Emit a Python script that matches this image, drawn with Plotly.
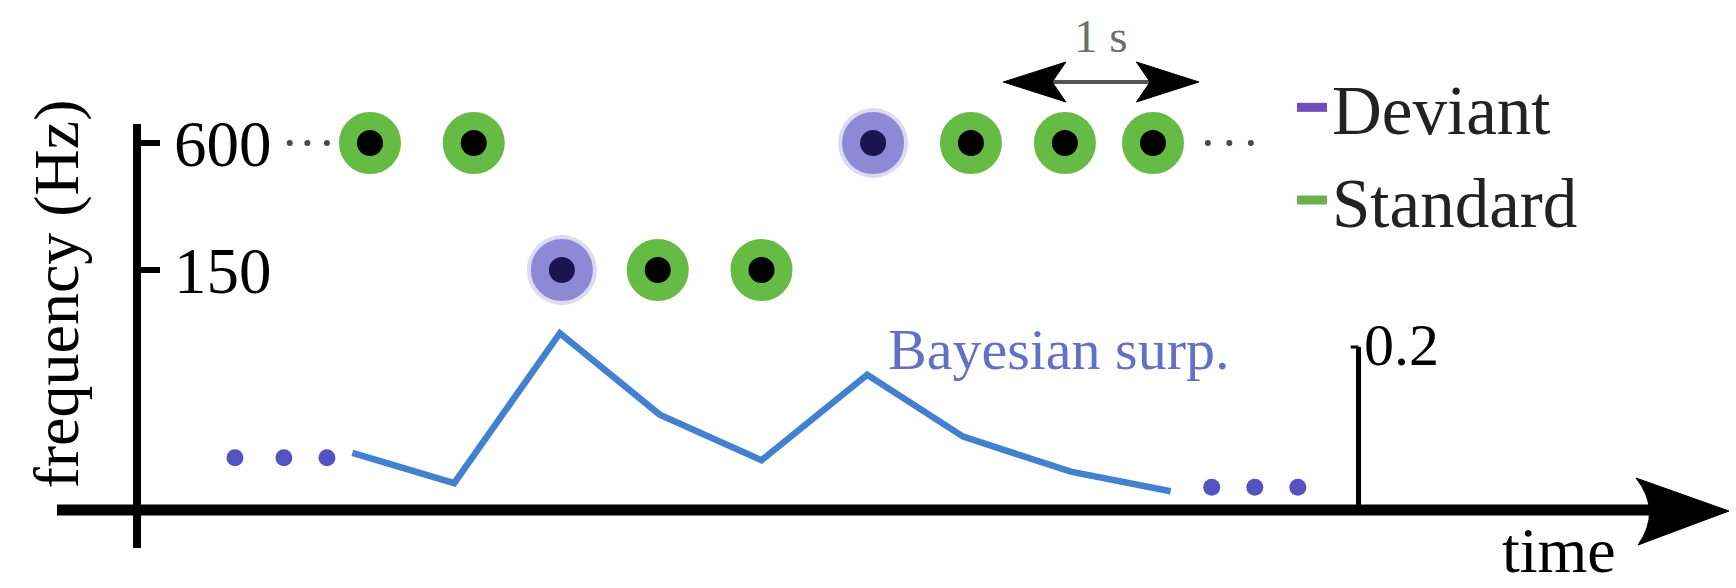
import plotly.graph_objects as go

W, H = 1736, 588
FONT = "Liberation Serif, Times New Roman, serif"

# Tone sequence: onset (s), frequency (Hz) and tone type
onset_s = [0.0, 0.53, 0.98, 1.47, 2.0, 2.57, 3.07, 3.55, 4.0]
freq_hz = [600, 600, 150, 150, 150, 600, 600, 600, 600]
tone_kind = ["Standard", "Standard", "Deviant", "Standard", "Standard",
             "Deviant", "Standard", "Standard", "Standard"]

# Bayesian surprise evoked by each tone
surprise_t = [-0.09, 0.43, 0.97, 1.48, 2.0, 2.54, 3.03, 3.58, 4.09]
surprise_val = [0.070, 0.033, 0.217, 0.117, 0.061, 0.166, 0.090, 0.047, 0.023]

# "..." continuation marks
surp_dots_left_t = [-0.69, -0.44, -0.22]
surp_dots_left_val = [0.064, 0.064, 0.064]
surp_dots_right_t = [4.30, 4.52, 4.74]
surp_dots_right_val = [0.028, 0.028, 0.028]
freq_dots_left_t = [-0.41, -0.32, -0.22]
freq_dots_right_t = [4.28, 4.39, 4.50]

freq_ticks = [150, 600]
freq_ticklabels = ["150", "600"]

scale_bar_t = 5.05
scale_bar_val = 0.2
interval_start_s = 3.235
interval_len_s = 1.0

STD_RING = "#66bb44"
DEV_RING = "#8d89d4"
DEV_CORE = "#1c1452"
LINE_BLUE = "#4280d0"
DOT_BLUE = "#5552c2"


def px(xp):
    return xp / W


def py(yp):
    return 1 - yp / H


std_x = [t for t, k in zip(onset_s, tone_kind) if k == "Standard"]
std_y = [f for f, k in zip(freq_hz, tone_kind) if k == "Standard"]
dev_x = [t for t, k in zip(onset_s, tone_kind) if k == "Deviant"]
dev_y = [f for f, k in zip(freq_hz, tone_kind) if k == "Deviant"]

fig = go.Figure()

# tones
fig.add_trace(go.Scatter(
    x=dev_x, y=dev_y, mode="markers", showlegend=False, hoverinfo="skip",
    marker=dict(size=70, color="rgba(141,137,212,0.30)", line=dict(width=0))))
fig.add_trace(go.Scatter(
    x=dev_x, y=dev_y, mode="markers", showlegend=False,
    marker=dict(size=44, color=DEV_CORE, line=dict(color=DEV_RING, width=18))))
fig.add_trace(go.Scatter(
    x=std_x, y=std_y, mode="markers", showlegend=False,
    marker=dict(size=44, color="black", line=dict(color=STD_RING, width=18))))
fig.add_trace(go.Scatter(
    x=freq_dots_left_t + freq_dots_right_t, y=[600] * 6, mode="markers",
    showlegend=False, hoverinfo="skip",
    marker=dict(size=6, color="#4a4a4a")))

# surprise
fig.add_trace(go.Scatter(
    x=surprise_t, y=surprise_val, yaxis="y2", mode="lines", showlegend=False,
    line=dict(color=LINE_BLUE, width=6.5)))
fig.add_trace(go.Scatter(
    x=surp_dots_left_t + surp_dots_right_t,
    y=surp_dots_left_val + surp_dots_right_val, yaxis="y2", mode="markers",
    showlegend=False, hoverinfo="skip",
    marker=dict(size=17, color=DOT_BLUE)))

# legend entries
fig.add_trace(go.Scatter(x=[None], y=[None], mode="lines", name="Deviant",
                         line=dict(color="#7050b8", width=9)))
fig.add_trace(go.Scatter(x=[None], y=[None], mode="lines", name="Standard",
                         line=dict(color="#6ab04c", width=9)))

shapes = []
# frequency axis line
shapes.append(dict(type="line", xref="paper", yref="paper",
                   x0=px(137), x1=px(137), y0=py(548), y1=py(124),
                   line=dict(color="black", width=8)))
# time axis with arrow head
shapes.append(dict(type="line", xref="paper", yref="y2",
                   x0=px(57), x1=px(1660), y0=0, y1=0,
                   line=dict(color="black", width=11)))
head = "M {},{} L {},{} L {},{} Q {},{} {},{} Z".format(
    px(1636), py(478), px(1729), py(511), px(1638), py(545),
    px(1662), py(511), px(1636), py(478))
shapes.append(dict(type="path", xref="paper", yref="paper", path=head,
                   fillcolor="black", line=dict(color="black", width=1)))
# surprise scale bar
shapes.append(dict(type="line", xref="x", yref="y2",
                   x0=scale_bar_t, x1=scale_bar_t, y0=0, y1=scale_bar_val,
                   line=dict(color="black", width=5)))
shapes.append(dict(type="line", xref="x", yref="y2",
                   x0=scale_bar_t - 0.04, x1=scale_bar_t,
                   y0=scale_bar_val, y1=scale_bar_val,
                   line=dict(color="black", width=3)))
# 1 s interval arrow
ya = py(82)
dy = 20 / H
a0, a1 = interval_start_s, interval_start_s + interval_len_s
shapes.append(dict(type="line", xref="x", yref="paper",
                   x0=a0 + 0.2, x1=a1 - 0.2, y0=ya, y1=ya,
                   line=dict(color="#555555", width=4)))
for tip, sgn in ((a0, 1), (a1, -1)):
    p = "M {},{} L {},{} L {},{} L {},{} Z".format(
        tip, ya, tip + sgn * 0.32, ya + dy, tip + sgn * 0.25, ya,
        tip + sgn * 0.32, ya - dy)
    shapes.append(dict(type="path", xref="x", yref="paper", path=p,
                       fillcolor="black", line=dict(color="black", width=1)))

annotations = [
    dict(text="Bayesian surp.", xref="paper", yref="paper", x=px(886), y=py(349),
         xanchor="left", yanchor="middle", showarrow=False,
         font=dict(family=FONT, size=58, color="#6470c8")),
    dict(text="0.2", xref="x", yref="y2", x=scale_bar_t, y=scale_bar_val,
         xanchor="left", yanchor="middle", xshift=3, yshift=2, showarrow=False,
         font=dict(family=FONT, size=60, color="black")),
    dict(text="time", xref="paper", yref="paper", x=px(1500), y=0,
         xanchor="left", yanchor="bottom", showarrow=False,
         font=dict(family=FONT, size=64, color="black")),
    dict(text="1 s", xref="x", yref="paper", x=(a0 + a1) / 2, y=py(36),
         xanchor="center", yanchor="middle", showarrow=False,
         font=dict(family=FONT, size=47, color="#6e6e6e")),
]

fig.update_layout(
    width=W, height=H, margin=dict(l=0, r=0, t=0, b=0),
    paper_bgcolor="white", plot_bgcolor="white",
    font=dict(family=FONT, color="black"),
    shapes=shapes, annotations=annotations,
    xaxis=dict(range=[-1.8902, 6.9783], visible=False, fixedrange=True),
    yaxis=dict(type="log", range=[0.66855, 3.45607], anchor="free",
               position=px(137), showline=False, showgrid=False, zeroline=False,
               tickvals=freq_ticks, ticktext=freq_ticklabels,
               ticks="inside", ticklen=22, tickwidth=6, tickcolor="black",
               ticklabelposition="inside", ticklabelstandoff=24,
               tickfont=dict(family=FONT, size=65, color="black"),
               title=dict(text="frequency (Hz)", standoff=73,
                          font=dict(family=FONT, size=64, color="black")),
               automargin=False),
    yaxis2=dict(range=[-0.09571, 0.62577], overlaying="y", visible=False),
    legend=dict(x=px(1292), y=py(56), xanchor="left", yanchor="top",
                bgcolor="rgba(0,0,0,0)", valign="top",
                font=dict(family=FONT, size=69, color="#222222")),
)

fig.write_html("out.html")
